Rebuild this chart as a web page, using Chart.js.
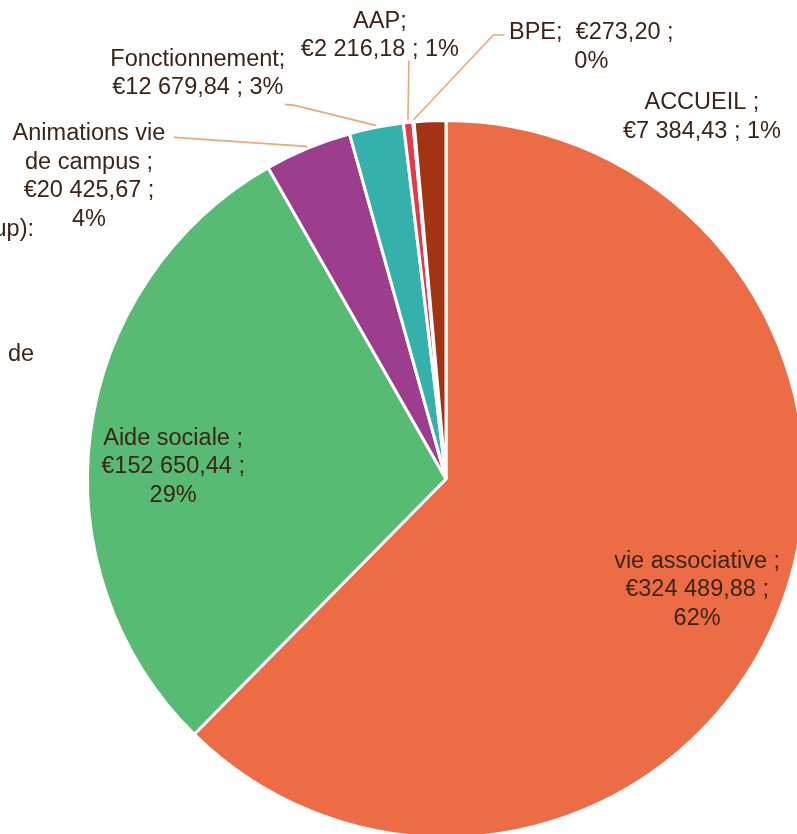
<!DOCTYPE html>
<html>
<head>
<meta charset="utf-8">
<script src="https://cdn.jsdelivr.net/npm/chart.js@4.4.1/dist/chart.umd.min.js"></script>
<style>
    html, body { margin: 0; padding: 0; width: 797px; height: 834px; overflow: hidden; background: #fff; }
    #wrap { position: relative; width: 797px; height: 834px; overflow: hidden; }
    #pie { position: absolute; left: 0; top: 0; }
</style>
</head>
<body>
<div id="wrap"><canvas id="pie" width="900" height="900"></canvas></div>
<script>
// données du graphique
const categories = ['vie associative', 'Aide sociale', 'Animations vie de campus', 'Fonctionnement', 'AAP', 'BPE', 'ACCUEIL'];
const montants = [324489.88, 152650.44, 20425.67, 12679.84, 2216.18, 273.20, 7384.43];
const pourcents = ['62%', '29%', '4%', '3%', '1%', '0%', '1%'];
const couleurs = ['#EC6D45', '#57BB73', '#9C3D8E', '#34B1AA', '#E43A48', '#F2B134', '#A23413'];

// textes des étiquettes (tels qu'affichés)
const etiquettes = [
    ['vie associative ;', '€324 489,88 ;', '62%'],
    ['Aide sociale ;', '€152 650,44 ;', '29%'],
    ['Animations vie', 'de campus ;', '€20 425,67 ;', '4%'],
    ['Fonctionnement;', '€12 679,84 ; 3%'],
    ['AAP;', '€2 216,18 ; 1%'],
    ['BPE;  €273,20 ;', '0%'],
    ['ACCUEIL ;', '€7 384,43 ; 1%']
];

// placement des étiquettes (relatif au bord de la part)
const placement = [
    {inside: 0.763, dx: -2, dy: 7},
    {inside: 0.762, dx: -2, dy: 23},
    {dx: -218, dy: 30, leader: [[-133, -9]]},
    {dx: -178, dy: -52, leader: [[-81, -20], [-91, -21]]},
    {dx: -28, dy: -85, leader: [[1, -60]]},
    {dx: 178, dy: -73, leader: [[80, -85], [91, -85]]},
    {dx: 272, dy: -2}
];

const TEXT_COLOR = '#3D2416';
const LINE_COLOR = '#F0A57C';
const FONT = '23.5px "Liberation Sans", Arial, sans-serif';
const LINE_H = 28.5;

const labelPlugin = {
    id: 'excelLabels',
    afterDatasetsDraw(chart) {
        const ctx = chart.ctx;
        const arcs = chart.getDatasetMeta(0).data;
        ctx.save();
        ctx.font = FONT;
        ctx.fillStyle = TEXT_COLOR;
        ctx.textAlign = 'center';
        ctx.textBaseline = 'middle';
        arcs.forEach(function(arc, i) {
            const p = placement[i];
            const mid = (arc.startAngle + arc.endAngle) / 2;
            const R = arc.outerRadius;
            let cx, cy;
            if (p.inside) {
                cx = arc.x + Math.cos(mid) * R * p.inside + p.dx;
                cy = arc.y + Math.sin(mid) * R * p.inside + p.dy;
            } else {
                const ax = arc.x + Math.cos(mid) * (R + 2);
                const ay = arc.y + Math.sin(mid) * (R + 2);
                cx = ax + p.dx;
                cy = ay + p.dy;
                if (p.leader) {
                    ctx.strokeStyle = LINE_COLOR;
                    ctx.lineWidth = 1.6;
                    ctx.beginPath();
                    ctx.moveTo(ax, ay);
                    p.leader.forEach(function(pt) { ctx.lineTo(ax + pt[0], ay + pt[1]); });
                    ctx.stroke();
                }
            }
            const lines = etiquettes[i];
            const top = cy - (lines.length - 1) * LINE_H / 2;
            lines.forEach(function(t, k) {
                ctx.fillText(t, cx, top + k * LINE_H);
            });
        });
        // étiquettes coupées au bord gauche
        ctx.textAlign = 'right';
        ctx.fillText('(groupe Sup):', 34, 230);
        ctx.textAlign = 'left';
        ctx.fillText('de', 8, 355);
        ctx.restore();
    }
};

const ctx = document.getElementById('pie').getContext('2d');
const pieChart = new Chart(ctx, {
    type: 'pie',
    data: {
        labels: categories,
        datasets: [{
            data: montants,
            backgroundColor: couleurs,
            borderColor: '#ffffff',
            borderWidth: 3
        }]
    },
    options: {
        responsive: false,
        animation: false,
        layout: {
            padding: {left: 86, top: 119, right: 94, bottom: 61}
        },
        plugins: {
            legend: {display: false},
            tooltip: {enabled: false}
        }
    },
    plugins: [labelPlugin]
});
</script>
</body>
</html>
